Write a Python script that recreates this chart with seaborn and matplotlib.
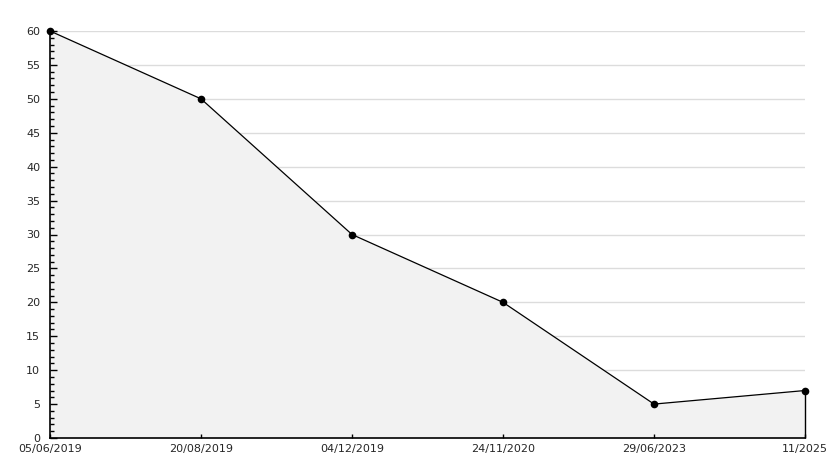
import matplotlib
matplotlib.use("Agg")
import matplotlib.pyplot as plt
import seaborn as sns
import numpy as np
import pandas as pd
from matplotlib.ticker import MultipleLocator

dates = ["05/06/2019", "20/08/2019", "04/12/2019", "24/11/2020", "29/06/2023", "11/2025"]
values = [60, 50, 30, 20, 5, 7]

sns.set_style("white")
plt.rcParams['font.family'] = ['DejaVu Sans']

df = pd.DataFrame({"pos": np.arange(len(dates)), "value": values})

fig = plt.figure(figsize=(8.34, 4.68), dpi=100)
ax = fig.add_axes([50/834, 1-438/468, (805-50)/834, (438-31)/468])

ax.set_axisbelow(False)
for yv in range(5, 61, 5):
    ax.axhline(yv, color="#dcdcdc", lw=1, zorder=0.2)

ax.fill_between(df["pos"], df["value"], 0, color="#f2f2f2", lw=0, zorder=1)
ax.vlines(df["pos"].iloc[-1], 0, values[-1], color="black", lw=1, zorder=3, clip_on=False)
sns.lineplot(data=df, x="pos", y="value", ax=ax, color="black", lw=0.9,
             marker="o", markersize=5.5, markeredgewidth=0, sort=False, zorder=4,
             clip_on=False)

ax.set_xlim(0, len(dates)-1)
ax.set_ylim(0, 60)
ax.yaxis.set_major_locator(MultipleLocator(5))
ax.yaxis.set_minor_locator(MultipleLocator(1))
ax.set_xticks(df["pos"])
ax.set_xticklabels(dates)
ax.grid(False)

for s in ["top", "right"]:
    ax.spines[s].set_visible(False)
for s in ["left", "bottom"]:
    ax.spines[s].set_color("black")
    ax.spines[s].set_linewidth(1.2)
    ax.spines[s].set_zorder(5)

ax.tick_params(axis="y", which="major", direction="in", length=5, width=1, color="black",
               labelsize=8, pad=7, left=True)
ax.tick_params(axis="y", which="minor", direction="in", length=3, width=1, color="black", left=True)
ax.tick_params(axis="x", which="major", direction="in", length=3, width=1, color="black",
               labelsize=8, pad=4, bottom=True)
ax.set_xlabel("")
ax.set_ylabel("")

fig.savefig("out.png", dpi=100)
